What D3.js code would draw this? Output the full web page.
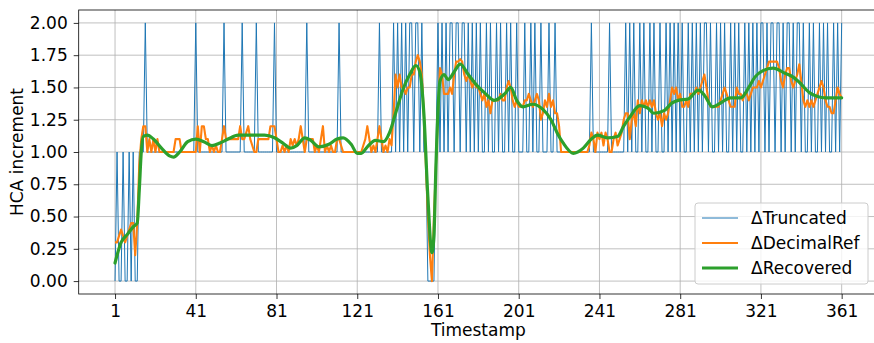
<!DOCTYPE html>
<html>
<head>
<meta charset="utf-8">
<script src="https://cdn.jsdelivr.net/npm/d3@7"></script>
<style>
  body { margin: 0; background: #fff; }
  svg { display: block; font-family: "DejaVu Sans", sans-serif; }
</style>
</head>
<body>
<svg id="chart" width="874" height="343"></svg>
<script>
// ΔTruncated, one value per timestamp 1..361
const truncated = [
  0,1,0,0,1,0,0,1,0,1,0,0,1,1,1,2,1,1,1,1,
  1,1,1,1,1,1,1,1,1,1,1,1,1,1,1,1,1,1,1,1,
  2,1,1,1,1,1,1,1,1,1,1,1,1,1,2,1,1,1,1,1,
  1,1,1,2,1,1,1,1,1,1,2,1,1,1,1,1,1,1,1,2,
  1,1,1,1,1,1,1,1,1,1,1,1,1,1,1,2,1,1,1,1,
  1,1,1,1,1,1,1,1,1,1,1,2,1,1,1,1,1,1,1,1,
  1,1,1,1,1,1,1,1,1,1,1,2,1,1,1,1,1,1,2,1,
  2,1,2,1,2,1,2,2,1,2,2,1,2,1,1,0,0,0,0,1,
  2,1,2,1,2,1,2,2,1,2,2,1,2,2,1,2,1,2,1,2,
  1,2,1,1,2,1,2,1,1,2,1,2,1,1,2,1,2,1,1,2,
  1,1,1,2,1,1,2,1,2,1,1,2,1,1,1,2,1,1,2,1,
  1,1,1,1,1,1,1,1,1,1,1,1,1,1,1,1,2,1,1,1,
  1,1,1,1,1,2,1,1,1,1,1,1,1,2,1,2,1,2,1,1,
  2,1,2,1,1,2,1,2,1,1,2,1,1,2,1,2,1,2,1,2,
  1,2,1,1,2,1,2,1,2,1,2,1,2,2,1,2,1,1,2,1,
  2,1,2,1,1,2,1,2,1,2,1,1,2,1,2,1,2,1,2,1,
  2,2,1,2,1,2,2,1,2,2,1,2,1,2,2,1,2,1,2,2,
  1,2,1,1,2,1,2,1,1,2,1,2,1,2,1,1,2,1,2,1,2
];

// ΔDecimalRef, one value per timestamp 1..361
const decimalRef = [
  0.3,0.3,0.35,0.4,0.35,0.3,0.35,0.4,0.45,0.45,0.2,0.45,0.9,1.1,1.2,1.2,1.0,1.1,1.0,1.1,
  1.0,1.1,1.0,1.0,1.0,1.0,1.0,1.0,1.0,1.0,1.1,1.1,1.1,1.0,1.0,1.0,1.0,1.0,1.0,1.0,
  1.0,1.2,1.0,1.2,1.2,1.1,1.1,1.0,1.05,1.0,1.05,1.0,1.0,1.1,1.2,1.1,1.1,1.1,1.1,1.1,
  1.1,1.1,1.2,1.1,1.1,1.15,1.2,1.1,1.05,1.0,1.0,1.1,1.1,1.1,1.1,1.1,1.1,1.2,1.2,1.2,
  1.1,1.0,1.0,1.05,1.0,1.05,1.0,1.1,1.05,1.1,1.05,1.1,1.2,1.1,1.0,1.1,1.1,1.1,1.1,1.0,
  1.05,1.0,1.1,1.2,1.0,1.05,1.0,1.05,1.0,1.0,1.1,1.1,1.05,1.0,1.0,1.0,1.0,1.0,1.0,1.0,
  1.0,1.0,1.0,1.05,1.1,1.2,1.1,1.0,1.05,1.0,1.1,1.2,1.1,1.0,1.05,1.0,1.1,1.05,1.3,1.6,
  1.5,1.6,1.5,1.5,1.45,1.5,1.5,1.6,1.6,1.7,1.75,1.7,1.6,1.3,0.9,0.5,0.2,0.0,0.5,0.9,
  1.3,1.65,1.6,1.45,1.45,1.45,1.5,1.45,1.6,1.7,1.7,1.72,1.7,1.6,1.55,1.6,1.55,1.5,1.55,1.5,
  1.5,1.45,1.4,1.45,1.35,1.4,1.3,1.4,1.4,1.4,1.4,1.45,1.4,1.4,1.5,1.55,1.5,1.4,1.35,1.4,
  1.35,1.35,1.35,1.4,1.4,1.45,1.4,1.35,1.4,1.45,1.4,1.25,1.3,1.4,1.35,1.45,1.35,1.4,1.3,1.3,
  1.2,1.0,1.0,1.0,1.0,1.0,1.0,1.0,1.0,1.0,1.0,1.0,1.0,1.0,1.0,1.05,1.15,1.1,1.0,1.15,
  1.1,1.15,1.05,1.15,1.1,1.0,1.0,1.1,1.15,1.05,1.1,1.15,1.25,1.3,1.3,1.1,1.25,1.3,1.2,1.4,
  1.3,1.4,1.35,1.4,1.35,1.4,1.35,1.4,1.3,1.25,1.3,1.2,1.3,1.25,1.3,1.4,1.5,1.45,1.5,1.4,
  1.45,1.35,1.35,1.4,1.35,1.45,1.45,1.45,1.5,1.45,1.5,1.55,1.6,1.5,1.4,1.35,1.35,1.35,1.35,1.35,
  1.4,1.45,1.5,1.45,1.4,1.35,1.35,1.35,1.5,1.45,1.45,1.4,1.45,1.45,1.4,1.45,1.5,1.5,1.5,1.55,
  1.5,1.55,1.6,1.65,1.7,1.7,1.7,1.7,1.7,1.65,1.55,1.5,1.6,1.65,1.65,1.55,1.5,1.55,1.6,1.68,
  1.55,1.4,1.35,1.4,1.35,1.4,1.35,1.4,1.45,1.5,1.55,1.5,1.4,1.35,1.35,1.3,1.3,1.4,1.5,1.45,1.42
];

// ΔRecovered, read at these timestamps
const recoveredT = [
  1,4,7,10,12,13,14,15,17,20,24,28,30,33,37,41,45,49,53,57,
  62,68,75,80,84,88,91,95,98,102,107,111,114,118,121,123,126,130,134,137,
  140,144,147,150,152,154,156,158,159,160,162,164,166,169,172,176,180,184,189,194,
  197,200,203,208,213,217,220,223,228,233,237,240,245,250,253,256,261,265,268,273,
  277,280,285,290,293,297,301,306,311,315,318,322,327,333,337,340,345,349,353,357,361
];
const recoveredV = [
  0.14,0.3,0.36,0.42,0.45,0.7,1.0,1.12,1.13,1.1,1.03,0.97,0.96,1.0,1.08,1.1,1.08,1.05,1.07,1.1,
  1.13,1.13,1.13,1.11,1.07,1.03,1.05,1.11,1.09,1.04,1.06,1.1,1.11,1.06,0.99,0.99,1.04,1.09,1.08,1.15,
  1.3,1.5,1.6,1.67,1.62,1.3,0.65,0.22,0.35,0.9,1.55,1.6,1.56,1.62,1.68,1.6,1.52,1.46,1.4,1.45,
  1.5,1.4,1.35,1.37,1.33,1.25,1.15,1.07,0.99,1.03,1.1,1.13,1.11,1.12,1.2,1.27,1.36,1.34,1.3,1.32,
  1.38,1.4,1.41,1.48,1.44,1.35,1.38,1.42,1.42,1.5,1.58,1.63,1.65,1.61,1.58,1.54,1.46,1.43,1.42,1.42,1.42
];

const xTicks = [1, 41, 81, 121, 161, 201, 241, 281, 321, 361];
const yTicks = [0, 0.25, 0.5, 0.75, 1.0, 1.25, 1.5, 1.75, 2.0];
const seriesNames = ["ΔTruncated", "ΔDecimalRef", "ΔRecovered"];
const seriesColors = ["#1f77b4", "#ff7f0e", "#2ca02c"];
const seriesWidths = [1.0, 2.1, 3.2];

const svg = d3.select("#chart");
const pLeft = 78.7, pRight = 878, pTop = 10, pBottom = 294;

const x = d3.scaleLinear().domain([-17, 379]).range([pLeft, pRight]);
const y = d3.scaleLinear().domain([-0.1, 2.1]).range([pBottom, pTop]);

svg.append("defs").append("clipPath").attr("id", "plot")
  .append("rect").attr("x", pLeft).attr("y", pTop)
  .attr("width", pRight - pLeft).attr("height", pBottom - pTop);

// grid
const grid = svg.append("g").attr("stroke", "#b0b0b0").attr("stroke-width", 0.8);
grid.selectAll(".gx").data(xTicks).enter().append("line")
  .attr("x1", d => x(d)).attr("x2", d => x(d)).attr("y1", pTop).attr("y2", pBottom);
grid.selectAll(".gy").data(yTicks).enter().append("line")
  .attr("x1", pLeft).attr("x2", pRight).attr("y1", d => y(d)).attr("y2", d => y(d));

const plot = svg.append("g").attr("clip-path", "url(#plot)");

const straight = d3.line().x((d, i) => x(i + 1)).y(d => y(d));

plot.append("path").datum(truncated)
  .attr("d", straight).attr("fill", "none")
  .attr("stroke", seriesColors[0]).attr("stroke-width", seriesWidths[0])
  .attr("stroke-linejoin", "round");

plot.append("path").datum(decimalRef)
  .attr("d", straight).attr("fill", "none")
  .attr("stroke", seriesColors[1]).attr("stroke-width", seriesWidths[1])
  .attr("stroke-linejoin", "round");

const smooth = d3.line()
  .x((d, i) => x(recoveredT[i])).y(d => y(d))
  .curve(d3.curveMonotoneX);

plot.append("path").datum(recoveredV)
  .attr("d", smooth).attr("fill", "none")
  .attr("stroke", seriesColors[2]).attr("stroke-width", seriesWidths[2])
  .attr("stroke-linejoin", "round").attr("stroke-linecap", "round");

// axes
const xAxis = svg.append("g").attr("transform", `translate(0,${pBottom})`)
  .call(d3.axisBottom(x).tickValues(xTicks).tickSize(5).tickPadding(6).tickFormat(d3.format("d")));
const yAxis = svg.append("g").attr("transform", `translate(${pLeft},0)`)
  .call(d3.axisLeft(y).tickValues(yTicks).tickSize(5).tickPadding(6).tickFormat(d3.format(".2f")));

[xAxis, yAxis].forEach(a => {
  a.select(".domain").remove();
  a.selectAll("line").attr("stroke", "#000").attr("stroke-width", 0.8);
  a.selectAll("text").attr("font-size", 17).attr("fill", "#000")
    .attr("font-family", "DejaVu Sans, sans-serif");
});

// frame
svg.append("rect").attr("x", pLeft).attr("y", pTop)
  .attr("width", pRight - pLeft).attr("height", pBottom - pTop)
  .attr("fill", "none").attr("stroke", "#000").attr("stroke-width", 0.8);

svg.append("text").attr("x", x(181)).attr("y", 336)
  .attr("text-anchor", "middle").attr("font-size", 17).text("Timestamp");

svg.append("text").attr("transform", `translate(23,${(pTop + pBottom) / 2}) rotate(-90)`)
  .attr("text-anchor", "middle").attr("font-size", 17).text("HCA increment");

// legend
const lg = svg.append("g").attr("transform", "translate(695,203)");
lg.append("rect").attr("width", 173).attr("height", 81).attr("rx", 3)
  .attr("fill", "#fff").attr("fill-opacity", 0.8)
  .attr("stroke", "#cccccc").attr("stroke-width", 1);
seriesNames.forEach((name, i) => {
  const ry = 15 + i * 25;
  lg.append("line").attr("x1", 7).attr("x2", 43).attr("y1", ry).attr("y2", ry)
    .attr("stroke", seriesColors[i]).attr("stroke-width", seriesWidths[i]);
  lg.append("text").attr("x", 56).attr("y", ry + 6)
    .attr("font-size", 17).text(name);
});
</script>
</body>
</html>
